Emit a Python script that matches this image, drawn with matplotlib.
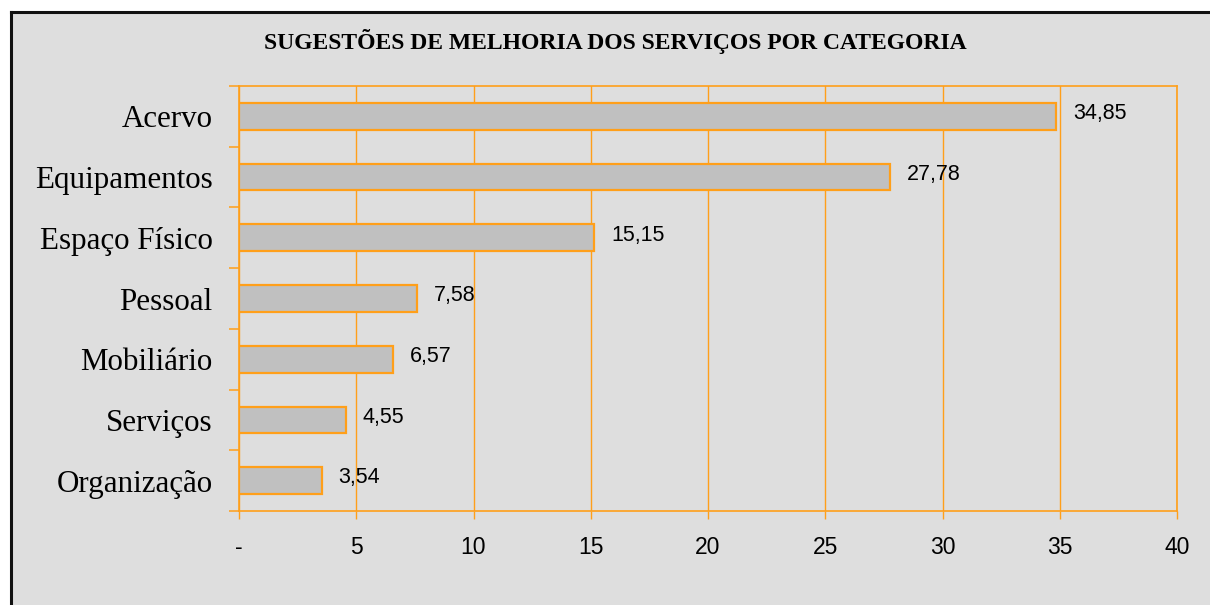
import matplotlib.pyplot as plt
from matplotlib.patches import Rectangle
from matplotlib.lines import Line2D

# Data
categorias = ['Acervo', 'Equipamentos', 'Espaço Físico', 'Pessoal',
              'Mobiliário', 'Serviços', 'Organização']
valores = [34.85, 27.78, 15.15, 7.58, 6.57, 4.55, 3.54]
xticks = [0, 5, 10, 15, 20, 25, 30, 35, 40]
xtick_labels = ['-', '5', '10', '15', '20', '25', '30', '35', '40']
titulo = 'SUGESTÕES DE MELHORIA DOS SERVIÇOS POR CATEGORIA'

laranja = '#FF9F1A'
W, H = 1210, 605

fig = plt.figure(figsize=(12.1, 6.05), dpi=100, facecolor='white')

# gray chart panel with black frame on top/left
fig.patches.append(Rectangle((10 / W, 0), 1, 1 - 12 / H, transform=fig.transFigure,
                             facecolor='#dedede', edgecolor='none', zorder=-5))
fig.lines.append(Line2D([10.5 / W, 1], [1 - 11.5 / H, 1 - 11.5 / H], transform=fig.transFigure,
                        color='#111111', linewidth=2.2, zorder=-4))
fig.lines.append(Line2D([10.5 / W, 10.5 / W], [0, 1 - 11.5 / H], transform=fig.transFigure,
                        color='#111111', linewidth=2.2, zorder=-4))

ax = fig.add_axes([239 / W, 1 - 511 / H, 938 / W, 425 / H])
ax.set_facecolor('#dedede')

y = list(range(len(categorias)))
ax.barh(y, valores, height=0.44, color='#c0c0c0', edgecolor=laranja, linewidth=1.6, zorder=3)

for yi, v in zip(y, valores):
    ax.annotate(f'{v:.2f}'.replace('.', ','), (v, yi), xytext=(12, 2), textcoords='offset points',
                ha='left', va='center', fontsize=15.5, family='Liberation Sans', color='black', zorder=4)

ax.set_xlim(0, 40)
ax.set_ylim(len(categorias) - 0.5, -0.5)

ax.set_xticks(xticks)
ax.set_xticklabels(xtick_labels, fontsize=16.5, family='Liberation Sans')
ax.set_yticks(y)
ax.set_yticklabels(categorias, fontsize=22.3, family='Liberation Serif')
ax.set_yticks([i - 0.5 for i in range(len(categorias) + 1)], minor=True)

ax.tick_params(axis='y', which='major', length=0, pad=19)
ax.tick_params(axis='y', which='minor', length=7, width=1.1, color=laranja)
ax.tick_params(axis='x', length=6, width=1, color=laranja, pad=12)

ax.grid(axis='x', color=laranja, linewidth=1.0, zorder=1)
for s in ax.spines.values():
    s.set_color(laranja)
    s.set_linewidth(1.2)

fig.text(615 / W, 1 - 42 / H, titulo, ha='center', va='center', fontsize=17,
         family='Liberation Serif', weight='bold')

fig.savefig('out.png', dpi=100, facecolor='white')
